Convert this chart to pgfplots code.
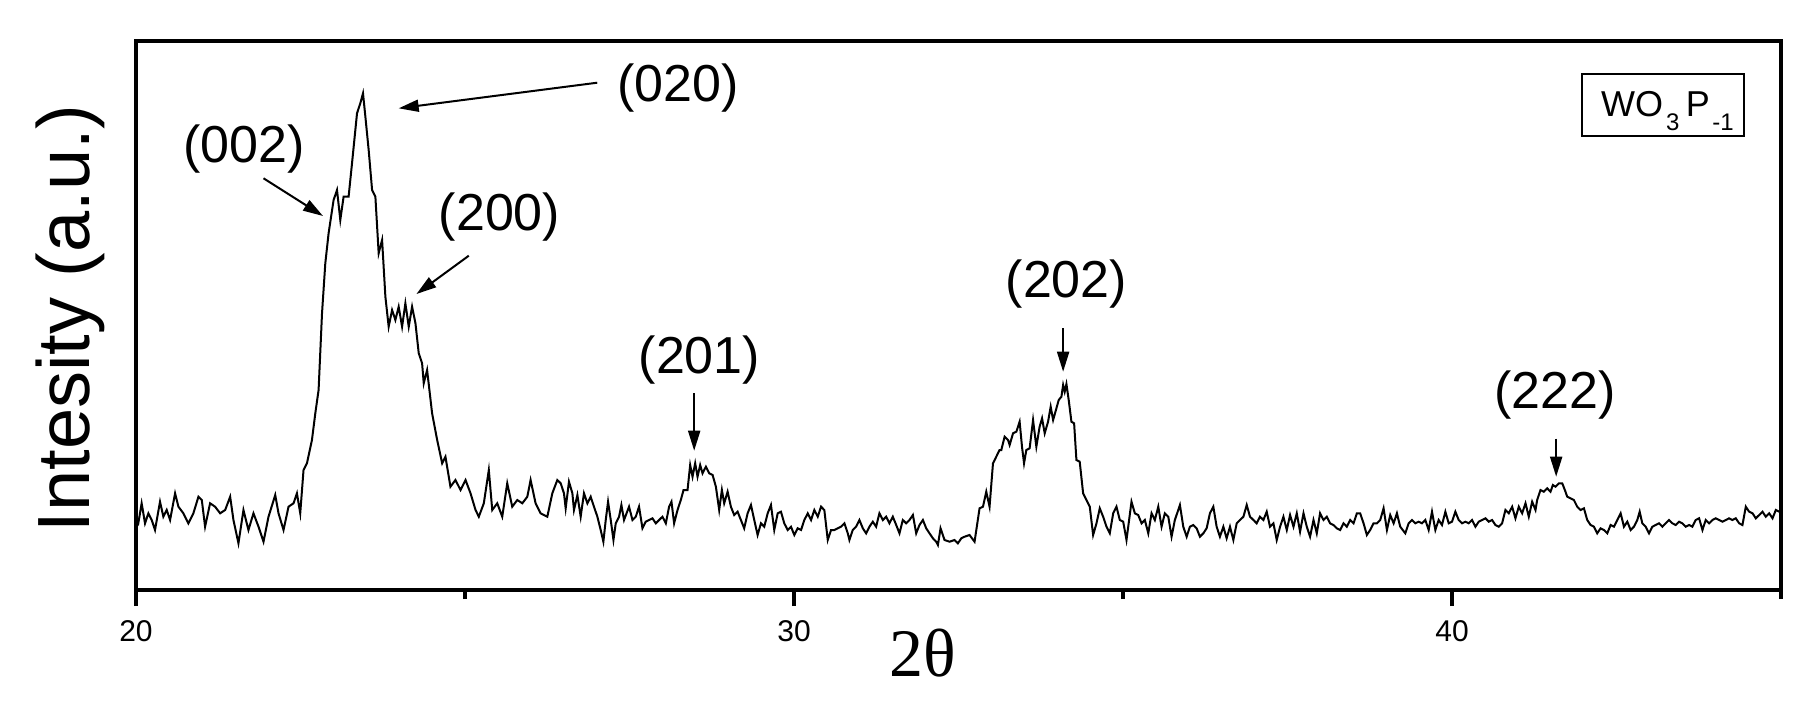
\documentclass[border=0pt]{standalone}
\usepackage{fontspec}
\setmainfont{Liberation Sans}
\newfontfamily\timesfont{Liberation Serif}
\usepackage{pgfplots}
\pgfplotsset{compat=1.18}
\usetikzlibrary{arrows.meta}

\newcommand{\sub}[1]{\raisebox{-3.5pt}{\fontsize{6}{7}\selectfont #1}}

\begin{document}
\begin{tikzpicture}
\begin{axis}[
    scale only axis,
    width=411.25pt, height=137.25pt,
    xmin=20, xmax=45,
    ymin=0, ymax=549,
    xtick={20,30,40},
    minor xtick={25,35,45},
    ytick=\empty,
    xtick pos=bottom,
    tick align=outside,
    major tick length=4pt,
    minor tick length=2.3pt,
    every tick/.style={black, line width=0.8pt},
    axis line style={line width=0.9pt},
    /pgf/number format/assume math mode=true,
    xticklabel style={font=\fontsize{7.5}{9}\selectfont},
    xlabel={\timesfont 2θ},
    every axis x label/.style={at={(axis description cs:0.478,-0.157)}, anchor=base,
        font=\fontsize{17}{19}\selectfont},
    ylabel={Intesity (a.u.)},
    every axis y label/.style={at={(axis description cs:-0.028,0.495)}, rotate=90, anchor=base,
        font=\fontsize{18.5}{20}\selectfont},
    clip=false,
]
\addplot[black, line width=0.5pt] table {
20.005 70
20.035 66.7
20.086 86.7
20.137 66.7
20.188 76.7
20.239 70
20.289 60
20.365 88.3
20.416 73.3
20.467 80
20.518 70
20.594 96.7
20.645 83.3
20.720 76.7
20.796 66.7
20.872 76.7
20.949 93.3
21.000 90
21.050 63.3
21.126 86.7
21.202 83.3
21.279 76.7
21.355 80
21.431 93.3
21.481 70
21.557 46.7
21.633 80
21.709 60
21.785 76.7
21.862 63.3
21.938 48.3
22.014 73.3
22.116 95
22.166 76.7
22.242 60
22.318 83.3
22.394 86.7
22.446 96.7
22.496 76.7
22.546 120
22.598 126.7
22.674 150
22.725 176.7
22.775 200
22.827 276.7
22.877 326.7
22.927 356.7
23.003 390
23.055 400
23.105 370
23.155 393.3
23.231 393.3
23.283 426.7
23.359 476.7
23.409 486.7
23.450 496.7
23.486 473.3
23.536 440
23.588 400
23.638 393.3
23.688 336.7
23.740 350
23.790 293.3
23.840 263.3
23.892 280
23.942 270
23.992 283.3
24.044 263.3
24.094 286.7
24.145 263.3
24.196 283.3
24.247 266.7
24.297 236.7
24.348 226.7
24.373 206.7
24.424 220
24.500 176.7
24.577 150
24.653 126.7
24.703 133.3
24.779 103.3
24.855 110
24.932 100
25.008 110
25.084 96.7
25.160 80
25.210 73.3
25.286 86.7
25.362 120
25.414 80
25.490 86.7
25.566 73.3
25.642 106.7
25.718 83.3
25.795 90
25.871 86.7
25.947 93.3
25.997 110
26.073 86.7
26.149 76.7
26.251 73.3
26.327 96.7
26.403 110
26.454 106.7
26.504 96.7
26.530 81.7
26.580 108.3
26.632 96.7
26.656 80
26.708 95
26.758 73.3
26.808 96.7
26.860 86.7
26.910 93.3
26.960 83.3
27.012 73.3
27.062 60
27.103 48.3
27.139 70
27.174 88.3
27.215 70
27.256 50
27.291 66.7
27.341 73.3
27.377 85
27.417 70
27.493 83.3
27.545 70
27.595 73.3
27.645 83.3
27.697 61.7
27.747 68.3
27.797 70
27.849 71.7
27.900 66.7
27.950 70
28.001 73.3
28.052 66.7
28.102 83.3
28.138 88.3
28.178 66.7
28.230 80
28.280 90
28.321 100
28.382 100
28.422 125
28.458 113.3
28.498 126.7
28.534 113.3
28.574 125
28.610 116.7
28.661 123.3
28.711 116.7
28.763 115
28.813 103.3
28.863 80
28.904 100
28.939 86.7
28.991 98.3
29.041 83.3
29.091 75
29.143 78.3
29.193 70
29.243 61.7
29.295 76.7
29.346 85
29.396 70
29.447 55
29.498 66.7
29.548 63.3
29.600 76.7
29.650 85
29.700 60
29.752 76.7
29.802 78.3
29.852 66.7
29.904 60
29.954 63.3
30.005 55
30.056 61.7
30.107 60
30.157 70
30.209 76.7
30.259 70
30.309 80
30.361 73.3
30.411 83.3
30.461 80
30.513 50
30.563 60
30.613 60
30.665 61.7
30.715 63.3
30.766 66.7
30.817 56.7
30.842 50
30.893 60
30.944 63.3
30.994 70
31.046 61.7
31.096 56.7
31.146 63.3
31.198 68.3
31.248 63.3
31.298 76.7
31.350 70
31.400 73.3
31.450 66.7
31.502 73.3
31.553 65
31.603 56.7
31.654 70
31.705 66.7
31.755 70
31.807 75
31.857 56.7
31.907 65
31.959 70
32.009 61.7
32.059 56.7
32.111 51.7
32.161 48.3
32.187 45
32.227 61.7
32.288 50
32.364 48.3
32.440 50
32.491 46.7
32.542 51.7
32.592 53.3
32.668 55
32.744 48.3
32.820 81.7
32.872 83.3
32.922 98.3
32.972 83.3
33.024 126.7
33.074 133.3
33.124 140
33.151 140
33.201 153.3
33.253 150
33.277 145
33.329 156.7
33.379 158.3
33.429 168.3
33.465 143.3
33.496 126.7
33.531 140
33.581 141.7
33.633 170
33.683 143.3
33.733 163.3
33.770 171.7
33.810 156.7
33.861 168.3
33.901 183.3
33.938 170
33.988 181.7
34.023 190
34.064 193.3
34.090 205
34.114 198.3
34.140 206
34.175 190
34.216 168.3
34.257 166.7
34.292 130
34.342 128.3
34.394 96.7
34.444 90
34.495 83.3
34.546 55
34.597 66.7
34.647 81.7
34.698 73.3
34.749 63.3
34.799 56.7
34.851 76.7
34.901 83.3
34.951 70
35.003 68.3
35.053 50
35.129 88.3
35.180 76.7
35.231 75
35.282 66.7
35.332 70
35.384 56.7
35.434 76.7
35.484 70
35.536 83.3
35.586 63.3
35.636 76.7
35.688 73.3
35.738 53.3
35.788 70
35.865 85
35.916 63.3
35.967 53.3
36.017 63.3
36.068 65
36.119 61.7
36.169 53.3
36.221 56.7
36.271 61.7
36.321 76.7
36.373 83.3
36.423 63.3
36.473 53.3
36.525 63.3
36.575 51.7
36.626 63.3
36.677 50
36.728 66.7
36.778 70
36.830 73.3
36.880 85
36.930 73.3
36.982 70
37.032 66.7
37.082 73.3
37.134 70
37.184 78.3
37.234 63.3
37.286 66.7
37.336 50
37.387 63.3
37.438 73.3
37.489 60
37.539 75
37.591 63.3
37.641 76.7
37.691 58.3
37.743 76.7
37.793 63.3
37.843 53.3
37.895 70
37.945 56.7
37.995 76.7
38.047 70
38.097 73.3
38.147 66.7
38.199 65
38.249 61.7
38.300 60
38.351 66.7
38.402 63.3
38.452 70
38.504 66.7
38.554 76.7
38.604 76.7
38.656 66.7
38.706 55
38.756 60
38.808 66.7
38.858 66.7
38.909 70
38.960 81.7
39.011 60
39.061 75
39.113 66.7
39.163 76.7
39.213 63.3
39.290 56.7
39.341 66.7
39.392 70
39.442 66.7
39.493 68.3
39.544 66.7
39.595 70
39.645 60
39.696 78.3
39.747 60
39.797 70
39.848 65
39.899 78.3
39.950 66.7
40.000 68.3
40.051 78.3
40.102 70
40.153 66.7
40.203 68.3
40.254 66.7
40.305 70
40.356 63.3
40.406 68.3
40.457 70
40.508 71.7
40.559 68.3
40.609 70
40.660 65
40.711 63.3
40.761 66.7
40.812 80
40.863 76.7
40.914 83.3
40.964 71.7
41.015 83.3
41.066 76.7
41.117 86.7
41.167 73.3
41.218 88.3
41.269 80
41.294 90
41.345 100
41.396 98.3
41.446 101.7
41.497 98.3
41.533 105
41.573 103.3
41.624 106.7
41.675 106.7
41.715 100
41.751 93.3
41.802 91.7
41.852 90
41.903 83.3
41.954 80
42.005 81.7
42.055 70
42.106 65
42.157 63.3
42.207 56.7
42.258 61.7
42.309 60
42.360 56.7
42.410 65
42.461 63.3
42.512 70
42.563 76.7
42.613 63.3
42.664 68.3
42.715 60
42.765 63.3
42.816 70
42.852 78.3
42.892 66.7
42.943 63.3
42.994 56.7
43.045 63.3
43.095 65
43.146 66.7
43.197 63.3
43.247 66.7
43.298 70
43.349 66.7
43.400 65
43.450 68.3
43.501 66.7
43.552 63.3
43.603 65
43.653 63.3
43.704 70
43.755 71.7
43.806 60
43.856 70
43.907 66.7
43.958 70
44.008 71.7
44.059 70
44.110 68.3
44.161 70
44.211 71.7
44.262 70
44.313 71.7
44.364 66.7
44.414 65
44.465 83.3
44.516 78.3
44.567 76.7
44.617 71.7
44.668 75
44.719 78.3
44.769 73.3
44.820 76.7
44.871 71.7
44.921 80
44.972 78.3
45.000 79
};

% peak labels
\begin{scope}[every node/.style={font=\fontsize{13}{15}\selectfont, inner sep=0pt}]
\node at (axis cs:28.242,502) {(020)};
\node at (axis cs:21.644,441) {(002)};
\node at (axis cs:25.525,373) {(200)};
\node at (axis cs:28.562,230) {(201)};
\node at (axis cs:34.140,306) {(202)};
\node at (axis cs:41.568,195) {(222)};
\end{scope}

% arrows
\begin{scope}[line width=0.5pt, -{Triangle[length=5pt,width=3pt]}]
\draw (axis cs:27.010,507.3) -- (axis cs:23.992,481.7);
\draw (axis cs:21.938,411.7) -- (axis cs:22.842,374);
\draw (axis cs:25.058,334.3) -- (axis cs:24.262,296);
\draw (axis cs:28.483,196.7) -- (axis cs:28.483,139.3);
\draw (axis cs:34.090,262) -- (axis cs:34.090,218.3);
\draw (axis cs:41.583,151.5) -- (axis cs:41.583,113.3);
\end{scope}

% sample box
\draw[line width=0.5pt] (axis cs:41.979,454) rectangle (axis cs:44.444,516);
\node[anchor=base west, inner sep=0pt, font=\fontsize{9}{10}\selectfont]
    at (axis cs:42.253,474) {WO\kern0.8pt\sub{3}\kern1.6pt P\kern0.6pt\sub{-1}};
\end{axis}
\pgfresetboundingbox
\path (current axis.south west) ++(-34pt,-29.5pt) rectangle ++(454.75pt,177pt);
\end{tikzpicture}
\end{document}
